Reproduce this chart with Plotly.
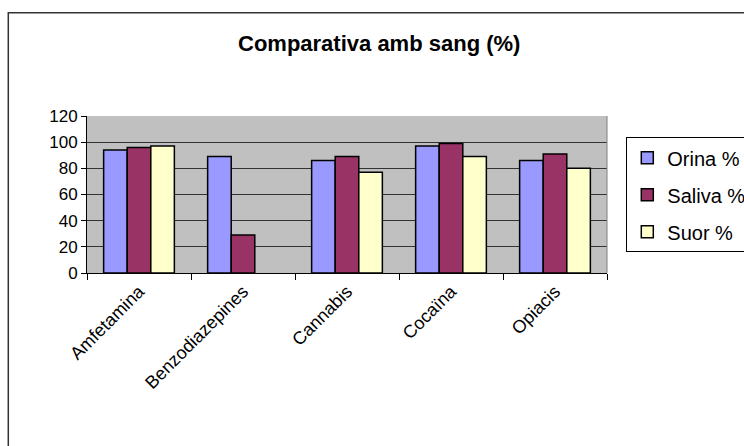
import plotly.graph_objects as go

categories = ["Amfetamina", "Benzodiazepines", "Cannabis", "Cocaïna", "Opiacis"]
orina = [94, 89, 86, 97, 86]
saliva = [96, 29, 89, 99, 91]
suor = [97, None, 77, 89, 80]
series_names = ["Orina %", "Saliva %", "Suor %"]
series_values = [orina, saliva, suor]
series_colors = ["#9999FF", "#993366", "#FFFFCC"]
y_ticks = [0, 20, 40, 60, 80, 100, 120]

L, R, T, B = 86.7, 606.7, 115.5, 273.5
W, H = 744, 446
pw, ph = R - L, B - T

def px(x):
    return (x - L) / pw

def py(y):
    return (B - y) / ph

fig = go.Figure()
for i, (name, vals, col) in enumerate(zip(series_names, series_values, series_colors)):
    fig.add_trace(go.Bar(
        x=categories, y=vals, name=name,
        marker=dict(color=col, line=dict(color="#000000", width=1.5)),
        legendgroup=f"g{i}",
    ))

font_family = "Liberation Sans, Arial, sans-serif"
fig.update_layout(
    width=W, height=H,
    margin=dict(l=L, r=W - R, t=T, b=H - B, pad=0, autoexpand=False),
    paper_bgcolor="white",
    plot_bgcolor="#C0C0C0",
    barmode="group",
    bargap=0.32,
    bargroupgap=0,
    font=dict(family=font_family, color="#000000"),
    showlegend=True,
    legend=dict(
        x=px(626), y=py(137), xanchor="left", yanchor="top",
        bordercolor="#000000", borderwidth=1, bgcolor="white",
        font=dict(size=20, family=font_family),
        tracegroupgap=8,
    ),
    annotations=[dict(
        text="<b>Comparativa amb sang (%)</b>",
        x=px(379), y=py(43), xref="paper", yref="paper",
        xanchor="center", yanchor="middle", showarrow=False,
        font=dict(size=22, family=font_family, color="#000000"),
    )],
    shapes=[
        dict(type="rect", xref="paper", yref="paper",
             x0=px(8), x1=px(760), y0=py(460), y1=py(11.5),
             line=dict(color="#333333", width=1.5), fillcolor="rgba(0,0,0,0)"),
        dict(type="line", xref="paper", yref="paper",
             x0=1, x1=1, y0=0, y1=1,
             line=dict(color="#808080", width=1)),
    ],
)
fig.update_xaxes(
    type="category", automargin=False,
    showline=True, linecolor="#000000", linewidth=1,
    ticks="outside", tickson="boundaries", ticklen=6, tickcolor="#000000",
    tickangle=-45,
    tickfont=dict(size=18, family=font_family),
    showgrid=False,
)
fig.update_yaxes(
    range=[0, 120], tickvals=y_ticks, automargin=False,
    showline=True, linecolor="#000000", linewidth=1,
    ticks="outside", ticklen=5, tickcolor="#000000",
    tickfont=dict(size=17, family=font_family),
    showgrid=True, gridcolor="#333333", gridwidth=1,
    zeroline=False,
)

fig.write_html(
    "out.html",
    config={"displayModeBar": False},
    post_script="document.body.style.margin='0';document.body.style.overflow='hidden';",
)
